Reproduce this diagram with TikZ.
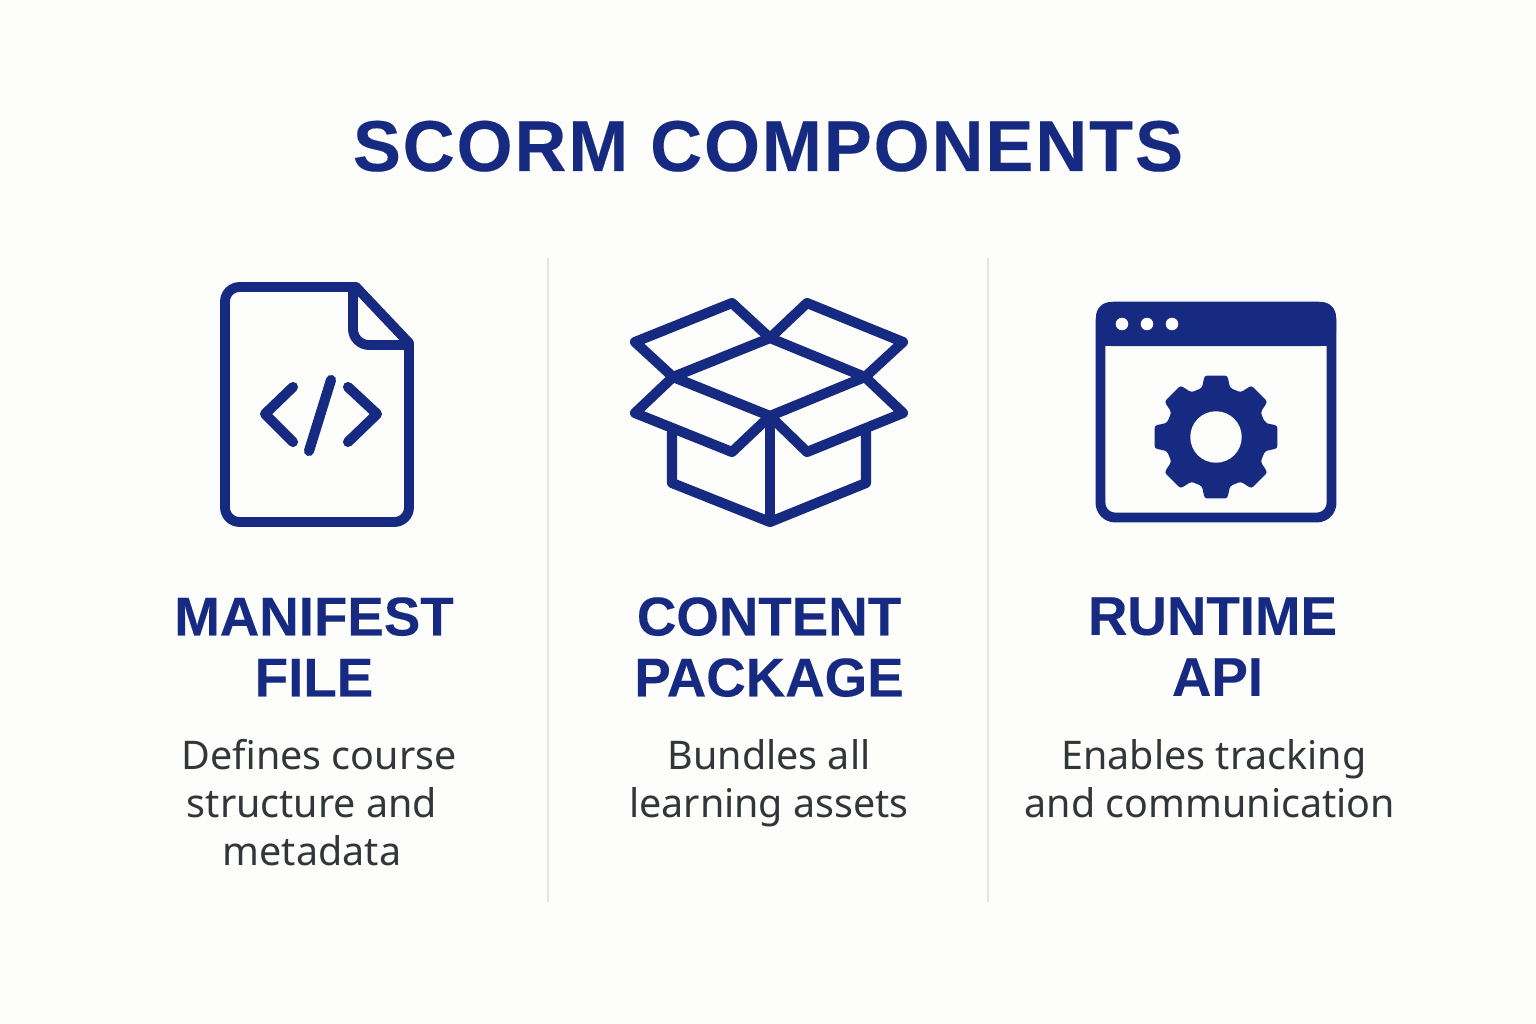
\documentclass[tikz,border=0pt]{standalone}
\usepackage{fontspec}
\setmainfont[BoldFeatures={FakeBold=0.25}]{Liberation Sans}
\newfontfamily\bodyfont{Noto Sans}
\newfontfamily\titlefont[LetterSpace=2.6,BoldFeatures={FakeBold=0.25}]{Liberation Sans}
\definecolor{navy}{HTML}{172A82}
\definecolor{paper}{HTML}{FDFDFB}
\definecolor{bodyink}{HTML}{333638}
\definecolor{rulegray}{HTML}{E4E5E5}
\tikzset{
  px/.style={x=0.75pt,y=-0.75pt},
  icon/.style={draw=navy,line width=7.4pt,line join=round,line cap=round},
  iconthin/.style={draw=navy,line width=7.6pt,line join=round,line cap=round},
  titletext/.style={text=navy,font=\titlefont\fontsize{54}{60}\selectfont\bfseries,inner sep=0pt,anchor=base},
  headtext/.style={text=navy,font=\fontsize{41}{45.75}\selectfont\bfseries,inner sep=0pt,align=center,anchor=north},
  desctext/.style={text=bodyink,font=\bodyfont\fontsize{29.6}{36}\selectfont,inner sep=0pt,align=center,anchor=north},
  divider/.style={draw=rulegray,line width=1.5pt},
}
\begin{document}
\begin{tikzpicture}[px]
\useasboundingbox (0,0) rectangle (1536,1024);
\fill[paper] (0,0) rectangle (1536,1024);
% title
\node[titletext] (title) at (768,171) {SCORM COMPONENTS};
% dividers
\coordinate (d1a) at (548,258); \coordinate (d1b) at (548,902);
\coordinate (d2a) at (988,258); \coordinate (d2b) at (988,902);
\draw[divider] (d1a) -- (d1b);
\draw[divider] (d2a) -- (d2b);
% file icon
\draw[icon,rounded corners=11pt] (356,287) -- (225,287) -- (225,522) -- (409,522) -- (409,343);
\draw[icon] (356,287) -- (409,343);
\draw[icon,rounded corners=12pt] (353,287) -- (353,345) -- (409,345);
\draw[iconthin] (293,387) -- (265,414) -- (293,442);
\draw[iconthin] (331,380) -- (309,451);
\draw[iconthin] (348,387) -- (377,414) -- (348,442);
% box icon
\coordinate (bT) at (770,338); \coordinate (bL) at (673,377);
\coordinate (bR) at (865,377); \coordinate (bC) at (770,416);
\coordinate (bB) at (770,522);
\draw[iconthin] (bT) -- (bL) -- (bC) -- (bR) -- cycle;
\draw[iconthin] (bL) -- (635,342) -- (732,303) -- (bT) -- (807,303) -- (903,342) -- (bR);
\draw[iconthin] (bL) -- (635,413) -- (732,452) -- (bC) -- (807,452) -- (903,413) -- (bR);
\draw[iconthin] (bC) -- (bB);
\draw[iconthin] (672,432) -- (672,483) -- (bB) -- (866,483) -- (866,432);
% window icon
\draw[icon,rounded corners=11pt] (1100.5,306.5) rectangle (1331.5,517.5);
\fill[navy,rounded corners=11pt] (1096,302) -- (1336,302) -- (1336,346) -- (1096,346) -- cycle;
\fill[navy] (1096,325) rectangle (1336,346);
\foreach \dx/\nm in {1122/a,1147/b,1172/c}
  \fill[paper] (\dx,324) circle[radius=4.7pt];
% gear
\begin{scope}[shift={(1216,437)}]
\fill[navy,rounded corners=2pt]
  (-16:51)
  \foreach \a in {0,45,...,315}{
    -- (\a-16:51) -- (\a-10.5:62.5) -- (\a+10.5:62.5) -- (\a+16:51)
  } -- cycle;
\fill[paper] (0,0) circle[radius=19.3pt];
\end{scope}
% headings
\node[headtext] (h1) at (314,597) {MANIFEST\\FILE};
\node[headtext] (h2) at (769,597) {CONTENT\\PACKAGE};
\node[headtext] (h3) at (1212.5,597) {RUNTIME\\\hspace*{7.5pt}API};
% descriptions
\node[desctext] (d1) at (312,739) {\hspace*{10.5pt}Defines course\\structure and\\metadata};
\node[desctext] (d2) at (769,739) {Bundles all\\learning assets};
\node[desctext] (d3) at (1210,739) {\hspace*{6pt}Enables tracking\\and communication};
\end{tikzpicture}
\end{document}
